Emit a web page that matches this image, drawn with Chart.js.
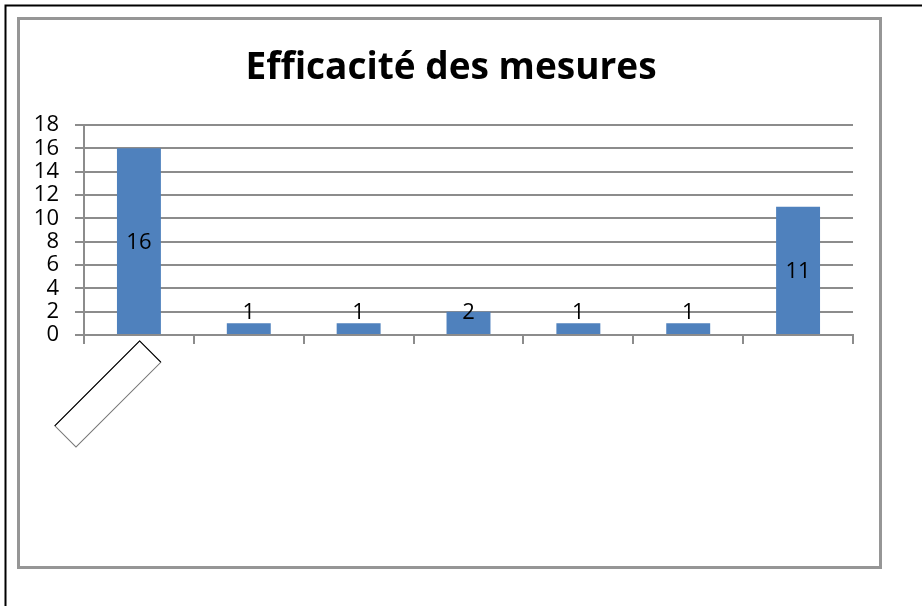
<!DOCTYPE html>
<html>
<head>
<meta charset="utf-8">
<title>Efficacité des mesures</title>
<script src="https://cdn.jsdelivr.net/npm/chart.js@4/dist/chart.umd.min.js"></script>
<style>
  html, body { margin: 0; padding: 0; background: #fff; }
  #wrap { position: relative; width: 922px; height: 606px; }
  canvas { display: block; }
</style>
</head>
<body>
<div id="wrap"><canvas id="c" width="922" height="606"></canvas></div>
<script>
// Chart content
const chartTitle = 'Efficacité des mesures';
const categories = ['', '', '', '', '', '', ''];
const values = [16, 1, 1, 2, 1, 1, 11];
const yTicks = [0, 2, 4, 6, 8, 10, 12, 14, 16, 18];

const FONT = '"Open Sans", "Liberation Sans", sans-serif';
const GRID = '#8c8c8c';
const BAR = '#4f81bd';

// Page border, chart frame and title
const framePlugin = {
  id: 'frame',
  beforeDraw(chart) {
    const ctx = chart.ctx;
    ctx.save();
    ctx.fillStyle = '#fff';
    ctx.fillRect(0, 0, chart.width, chart.height);
    // page border (top and left)
    ctx.strokeStyle = '#000';
    ctx.lineWidth = 2;
    ctx.beginPath();
    ctx.moveTo(5.5, chart.height);
    ctx.lineTo(5.5, 5.5);
    ctx.lineTo(chart.width, 5.5);
    ctx.stroke();
    // chart frame
    ctx.strokeStyle = '#969696';
    ctx.lineWidth = 3;
    ctx.strokeRect(18.5, 18.5, 862, 549);
    // title
    ctx.fillStyle = '#000';
    ctx.font = 'bold 37px ' + FONT;
    ctx.textAlign = 'center';
    ctx.textBaseline = 'alphabetic';
    ctx.fillText(chartTitle, 451, 79);
    ctx.restore();
  }
};

// Value labels inside the bars; short bars keep the label above the baseline
const valueLabelPlugin = {
  id: 'valueLabels',
  afterDatasetsDraw(chart) {
    const ctx = chart.ctx;
    const meta = chart.getDatasetMeta(0);
    const base = chart.scales.y.getPixelForValue(0);
    ctx.save();
    ctx.fillStyle = '#000';
    ctx.font = '22px ' + FONT;
    ctx.textAlign = 'center';
    ctx.textBaseline = 'middle';
    meta.data.forEach((bar, i) => {
      const mid = (bar.y + base) / 2;
      const y = Math.min(mid, base - 23);
      ctx.fillText(String(values[i]), bar.x, y + 1);
    });
    ctx.restore();
  }
};

// Empty rotated label box under the first category
const labelBoxPlugin = {
  id: 'labelBox',
  afterDraw(chart) {
    const ctx = chart.ctx;
    const x = chart.scales.x.getPixelForValue(0);
    const y = chart.scales.x.top + 6;
    const longSide = 120, shortSide = 30;
    ctx.save();
    ctx.translate(x, y);
    ctx.rotate(Math.PI / 4);
    // rectangle whose top corner sits at the origin
    ctx.strokeStyle = '#777';
    ctx.lineWidth = 1;
    ctx.strokeRect(0.5, -0.5, shortSide, longSide);
    ctx.strokeStyle = '#000';
    ctx.beginPath();
    ctx.moveTo(0.5, longSide - 0.5);
    ctx.lineTo(0.5, -0.5);
    ctx.lineTo(shortSide + 0.5, -0.5);
    ctx.stroke();
    ctx.restore();
  }
};

new Chart(document.getElementById('c'), {
  type: 'bar',
  data: {
    labels: categories,
    datasets: [{
      data: values,
      backgroundColor: BAR,
      borderWidth: 0,
      categoryPercentage: 1,
      barPercentage: 0.4
    }]
  },
  options: {
    responsive: false,
    animation: false,
    events: [],
    layout: { padding: { top: 125, left: 20, right: 69, bottom: 261 } },
    plugins: { legend: { display: false }, title: { display: false }, tooltip: { enabled: false } },
    scales: {
      x: {
        grid: {
          offset: true,
          drawOnChartArea: false,
          drawTicks: true,
          tickLength: 9,
          color: GRID,
          lineWidth: 2
        },
        border: { display: true, color: GRID, width: 2 },
        ticks: { display: false },
        afterFit(scale) { scale.height = 10; }
      },
      y: {
        min: 0,
        max: 18,
        afterBuildTicks(scale) { scale.ticks = yTicks.map(v => ({ value: v })); },
        grid: { color: GRID, lineWidth: 2, tickLength: 9, drawTicks: true },
        border: { display: true, color: GRID, width: 2 },
        ticks: {
          color: '#000',
          font: { family: FONT, size: 22, lineHeight: 1 },
          padding: 16,
          autoSkip: false,
          callback: v => String(v)
        },
        afterFit(scale) { scale.width = 64; }
      }
    }
  },
  plugins: [framePlugin, valueLabelPlugin, labelBoxPlugin]
});
</script>
</body>
</html>
